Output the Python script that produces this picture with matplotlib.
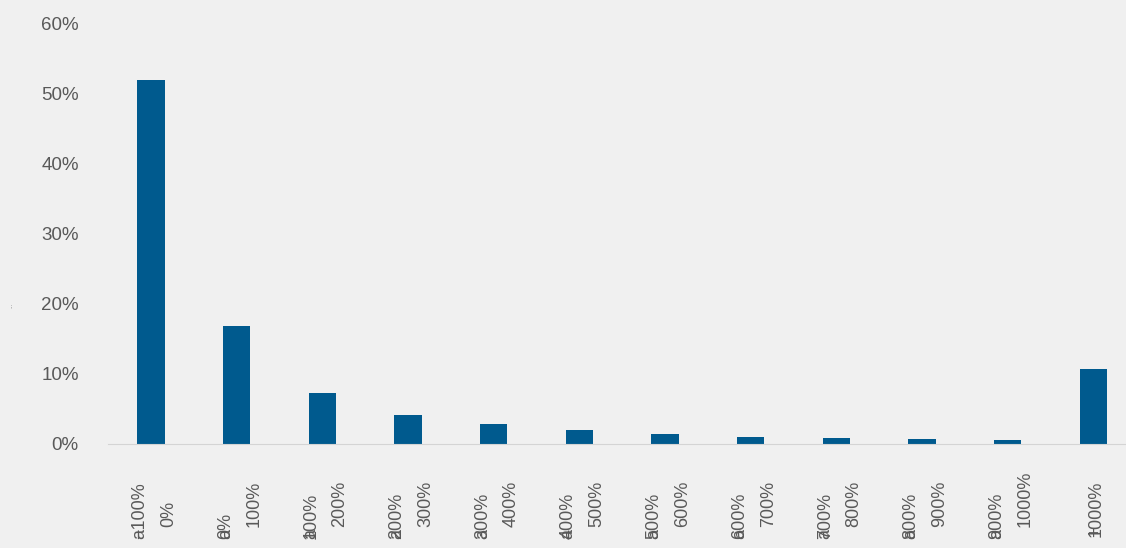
import matplotlib.pyplot as plt
from matplotlib.transforms import blended_transform_factory

plt.rcParams['font.family'] = ['Liberation Sans', 'DejaVu Sans']

# tramos de rentabilidad y porcentaje de casos
lower = ['−100%', '0%', '100%', '200%', '300%', '400%', '500%', '600%', '700%', '800%', '900%', '']
upper = ['0%', '100%', '200%', '300%', '400%', '500%', '600%', '700%', '800%', '900%', '1000%', '1000%']
values = [51.9, 16.8, 7.2, 4.2, 2.8, 2.0, 1.4, 1.0, 0.9, 0.7, 0.55, 10.7]
yticks = [0, 10, 20, 30, 40, 50, 60]

bg = '#f0f0f0'
txt = '#595959'
fs_x = 13

fig = plt.figure(figsize=(11.26, 5.48), dpi=100, facecolor=bg)
ax = fig.add_axes([108 / 1126, 1 - 444 / 548, 1 - 108 / 1126, (444 - 23) / 548])
ax.set_facecolor(bg)

x = list(range(len(values)))
ax.bar(x, values, width=0.32, color='#005a8e')

ax.set_xlim(-0.5, 11.38)
ax.set_ylim(0, 60)
ax.set_yticks(yticks)
ax.set_yticklabels(['{}%'.format(v) for v in yticks], fontsize=13.5, color=txt)
ax.tick_params(axis='y', length=0, pad=21)
ax.tick_params(axis='x', length=0, labelbottom=False)

for s in ['top', 'right', 'left']:
    ax.spines[s].set_visible(False)
ax.spines['bottom'].set_color('#d4d4d4')

# etiquetas del eje x, dibujadas a mano (dos columnas giradas)
tr = blended_transform_factory(ax.transData, fig.transFigure)
for i in x:
    if lower[i]:
        ax.text(i - 0.13, 1 - 539 / 548, lower[i], rotation=90, ha='center', va='bottom',
                fontsize=fs_x, color=txt, transform=tr, clip_on=False)
        ax.text(i - 0.13, 1 - 539 / 548, 'a', rotation=90, ha='center', va='bottom',
                fontsize=fs_x, color=txt, transform=tr, clip_on=False)
        ax.text(i + 0.205, 1 - 527 / 548, upper[i], rotation=90, ha='center', va='bottom',
                fontsize=fs_x, color=txt, transform=tr, clip_on=False)
    else:
        ax.text(i + 0.03, 1 - 537 / 548, upper[i], rotation=90, ha='center', va='bottom',
                fontsize=fs_x, color=txt, transform=tr, clip_on=False)
        ax.text(i + 0.03, 1 - 537 / 548, '+', rotation=90, ha='center', va='bottom',
                fontsize=fs_x, color=txt, transform=tr, clip_on=False)

fig.text(12 / 1126, 1 - 305 / 548, '···', rotation=90, fontsize=4, color=txt,
         ha='center', va='center')

plt.savefig('out.png', dpi=100, facecolor=bg)
